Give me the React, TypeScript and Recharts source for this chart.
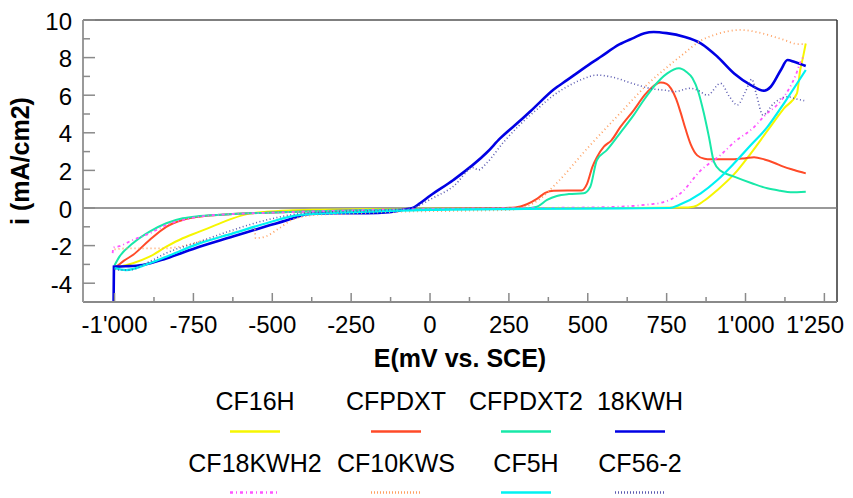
import React from 'react';
import { LineChart, Line, XAxis, YAxis, ReferenceLine, Legend } from 'recharts';

const FONT = '"Liberation Sans", Arial, Helvetica, sans-serif';

type Pt = [number, number];

// E (mV vs. SCE), i (mA/cm2)
const cf16h: Pt[] = [
  [-1000, -3.15], [-985, -3.12], [-942, -2.94], [-889, -2.59], [-836, -2.06], [-784, -1.61],
  [-731, -1.26], [-678, -0.9], [-625, -0.55], [-572, -0.3], [-519, -0.2], [-450, -0.13],
  [-350, -0.09], [-200, -0.06], [0, -0.04], [300, -0.02], [600, 0], [800, 0.02], [835, 0.07],
  [870, 0.4], [911, 0.96], [964, 1.8], [1017, 2.91], [1069, 4.1], [1122, 5.3], [1163, 6.1],
  [1173, 7.3], [1182, 8.0], [1191, 8.75],
];

const cfpdxt: Pt[] = [
  [-1000, -3.15], [-995, -3.12], [-970, -2.8], [-942, -2.5], [-889, -1.7], [-836, -1.0],
  [-784, -0.64], [-731, -0.46], [-625, -0.32], [-519, -0.25], [-400, -0.18], [-200, -0.1],
  [0, -0.05], [200, 0], [270, 0.03], [307, 0.2], [340, 0.5], [365, 0.8], [392, 0.92],
  [480, 0.93], [498, 1.3], [515, 2.2], [529, 2.7], [551, 3.26], [575, 3.6], [603, 4.3],
  [646, 5.21], [680, 6.0], [699, 6.35], [731, 6.67], [750, 6.6], [764, 6.35], [780, 5.8],
  [794, 5.1], [810, 4.2], [826, 3.4], [847, 2.8], [870, 2.62], [889, 2.59], [964, 2.59],
  [1000, 2.65], [1027, 2.7], [1060, 2.58], [1090, 2.41], [1120, 2.2], [1154, 2.02], [1191, 1.84],
];

const cfpdxt2: Pt[] = [
  [-1000, -3.05], [-985, -2.6], [-942, -1.88], [-889, -1.26], [-836, -0.81], [-784, -0.55],
  [-731, -0.43], [-625, -0.32], [-519, -0.25], [-400, -0.18], [-200, -0.1], [0, -0.05],
  [300, -0.02], [339, 0.07], [371, 0.43], [402, 0.64], [440, 0.74], [487, 0.78], [508, 1.13],
  [529, 2.55], [561, 3.09], [603, 4.0], [646, 4.95], [680, 5.8], [709, 6.45], [752, 7.16],
  [789, 7.43], [812, 7.25], [832, 6.9], [850, 6.2], [868, 5.04], [884, 3.79], [900, 2.45],
  [921, 1.98], [964, 1.67], [1020, 1.32], [1069, 1.05], [1110, 0.92], [1143, 0.84], [1191, 0.87],
];

const kwh18: Pt[] = [
  [-1003, -5.0], [-1002, -3.12], [-964, -3.1], [-911, -3.03], [-836, -2.68], [-731, -2.06],
  [-625, -1.52], [-519, -0.97], [-434, -0.55], [-413, -0.42], [-380, -0.32], [-300, -0.28],
  [-200, -0.28], [-130, -0.22], [-80, -0.08], [-55, 0.0], [-32, 0.25], [0, 0.65], [74, 1.49],
  [180, 2.95], [222, 3.7], [286, 4.65], [328, 5.3], [392, 6.3], [434, 6.8], [480, 7.35],
  [519, 7.8], [540, 8.03], [600, 8.7], [646, 9.05], [680, 9.3], [709, 9.36], [750, 9.3],
  [805, 9.11], [858, 8.76], [911, 8.05], [964, 7.16], [1017, 6.54], [1059, 6.24], [1080, 6.45],
  [1112, 7.34], [1133, 7.87], [1154, 7.78], [1191, 7.55],
];

const cf18kwh2: Pt[] = [
  [-1006, -2.4], [-1004, -2.1], [-985, -2.03], [-942, -1.7], [-889, -1.35], [-836, -0.9],
  [-784, -0.64], [-731, -0.46], [-625, -0.32], [-500, -0.25], [-300, -0.15], [0, -0.05],
  [300, 0.0], [500, 0.03], [600, 0.07], [700, 0.2], [731, 0.27], [794, 0.78], [858, 2.0],
  [920, 2.8], [964, 3.5], [1027, 4.3], [1060, 4.9], [1112, 5.7], [1140, 6.4], [1160, 7.1],
  [1175, 7.8], [1185, 8.1],
];

const cf10kws: Pt[] = [
  [-1000, -2.2], [-963, -2.15], [-850, -2.15], [-800, -2.08], [-731, -1.8], [-680, -1.6],
  [-625, -1.3], [-580, -1.15], [-556, -1.06], [-553, -1.6], [-519, -1.5], [-480, -1.1],
  [-434, -0.6], [-400, -0.45], [-350, -0.35], [-250, -0.3], [-100, -0.2], [100, -0.15],
  [250, -0.1], [290, 0.0], [350, 0.5], [400, 1.3], [500, 3.2], [600, 5.0], [700, 6.75],
  [752, 7.5], [800, 8.15], [858, 8.9], [900, 9.2], [985, 9.47], [1050, 9.3], [1090, 9.11],
  [1122, 8.94], [1165, 8.72], [1191, 8.72],
];

const cf5h: Pt[] = [
  [-1000, -3.2], [-964, -3.3], [-889, -2.94], [-836, -2.59], [-731, -1.88], [-625, -1.35],
  [-519, -0.81], [-413, -0.37], [-330, -0.28], [-200, -0.2], [0, -0.1], [300, -0.05],
  [600, -0.02], [760, 0.0], [789, 0.16], [858, 0.78], [911, 1.49], [964, 2.38], [1017, 3.35],
  [1069, 4.3], [1122, 5.57], [1191, 7.34],
];

const cf562: Pt[] = [
  [-1000, -3.25], [-985, -3.3], [-953, -3.3], [-889, -2.85], [-836, -2.4], [-731, -1.79],
  [-625, -1.17], [-519, -0.64], [-413, -0.3], [-300, -0.2], [-150, -0.12], [-60, 0.0],
  [-32, 0.15], [0, 0.45], [74, 1.15], [138, 2.15], [153, 2.02], [180, 2.4], [233, 3.5],
  [286, 4.45], [339, 5.25], [392, 6.0], [445, 6.55], [490, 6.9], [529, 7.07], [580, 6.95],
  [646, 6.6], [700, 6.35], [752, 6.25], [773, 6.19], [826, 6.37], [850, 6.25], [879, 6.0],
  [921, 6.63], [950, 5.9], [974, 5.48], [1000, 6.2], [1020, 6.85], [1035, 6.0], [1055, 4.95],
  [1090, 5.57], [1133, 5.92], [1160, 5.8], [1186, 5.71],
];

const seriesData: Pt[][] = [cf16h, cfpdxt, cfpdxt2, kwh18, cf18kwh2, cf10kws, cf5h, cf562];
const seriesNames = ['CF16H', 'CFPDXT', 'CFPDXT2', '18KWH', 'CF18KWH2', 'CF10KWS', 'CF5H', 'CF56-2'];

const xTicks = [-1000, -875, -750, -625, -500, -375, -250, -125, 0, 125, 250, 375, 500, 625, 750, 875, 1000, 1125, 1250];
const yTicks = [-4, -3, -2, -1, 0, 1, 2, 3, 4, 5, 6, 7, 8, 9, 10];

const seriesStyles = [
  { color: '#f6f600', width: 2, dash: undefined as string | undefined, legendDash: undefined as string | undefined },
  { color: '#ff4a28', width: 2, dash: undefined, legendDash: undefined },
  { color: '#18e8a8', width: 2, dash: undefined, legendDash: undefined },
  { color: '#0000e4', width: 2.6, dash: undefined, legendDash: undefined },
  { color: '#ff55ff', width: 1.8, dash: '3 3 1 3', legendDash: '3 3 1 3' },
  { color: '#ffa060', width: 1.8, dash: '1 3', legendDash: '1 2' },
  { color: '#00f2f2', width: 2.2, dash: undefined, legendDash: undefined },
  { color: '#5a5ab0', width: 1.6, dash: '1 2.5', legendDash: '1 2' },
];

const fmtThousands = (v: number) => {
  const s = Math.abs(v).toString();
  const body = s.length > 3 ? s.slice(0, s.length - 3) + "'" + s.slice(-3) : s;
  return (v < 0 ? '-' : '') + body;
};

const CHART_W = 853;

const XTick = (props: any) => {
  const { x, y, payload } = props;
  const v = payload.value as number;
  const major = v % 250 === 0;
  const label = fmtThousands(v);
  // keep the last label inside the picture, as the reference does
  const approxHalf = label.length * 6.2;
  const fitsRight = x + approxHalf <= CHART_W - 8;
  return (
    <g>
      <line x1={x} x2={x} y1={y} y2={y - (major ? 9 : 5)} stroke="#8a8a8a" strokeWidth={1.5} />
      {major && (
        <text
          x={fitsRight ? x : CHART_W - 9}
          y={y + 31}
          textAnchor={fitsRight ? 'middle' : 'end'}
          fontSize={24}
          fontFamily={FONT}
          fill="#000"
        >
          {label}
        </text>
      )}
    </g>
  );
};

const YTick = (props: any) => {
  const { x, y, payload } = props;
  const v = payload.value as number;
  const major = v % 2 === 0;
  return (
    <g>
      <line x1={x} x2={x + (major ? 12 : 7)} y1={y} y2={y} stroke="#8a8a8a" strokeWidth={1.5} />
      {major && (
        <text x={x - 11} y={y + 9.5} textAnchor="end" fontSize={24} fontFamily={FONT} fill="#000">
          {v}
        </text>
      )}
    </g>
  );
};

const legendCenters = [255, 396, 526, 640];

const renderLegend = () => (
  <svg width={853} height={118} style={{ display: 'block' }}>
    {seriesNames.map((name, i) => {
      const row = Math.floor(i / 4);
      const cx = legendCenters[i % 4];
      const ty = row === 0 ? 30 : 92;
      const ly = row === 0 ? 51.5 : 112.5;
      const s = seriesStyles[i];
      return (
        <g key={name}>
          <text x={cx} y={ty} textAnchor="middle" fontSize={25} fontFamily={FONT} fill="#000">
            {name}
          </text>
          <line x1={cx - 25} x2={cx + 25} y1={ly} y2={ly} stroke={s.color} strokeWidth={2.5} strokeDasharray={s.legendDash} />
        </g>
      );
    })}
  </svg>
);

const YTitle = () => (
  <text
    x={29}
    y={161}
    transform="rotate(-90 29 161)"
    textAnchor="middle"
    fontSize={25}
    fontWeight="bold"
    fontFamily={FONT}
    fill="#000"
  >
    i (mA/cm2)
  </text>
);

const XTitle = () => (
  <text x={460} y={367} textAnchor="middle" fontSize={25} fontWeight="bold" fontFamily={FONT} fill="#000">
    E(mV vs. SCE)
  </text>
);

export default function App() {
  return (
    <div style={{ position: 'absolute', left: 0, top: 0, width: 853, height: 498, background: '#fff' }}>
      <LineChart width={853} height={498} margin={{ top: 20, right: 16, bottom: 136, left: 0 }}>
        <XAxis
          dataKey="e"
          type="number"
          domain={[-1100, 1290]}
          allowDataOverflow
          ticks={xTicks}
          interval={0}
          tickSize={0}
          tickMargin={0}
          tickLine={false}
          tick={<XTick />}
          axisLine={{ stroke: '#8a8a8a', strokeWidth: 2 }}
          height={60}
          label={{ content: () => <XTitle /> }}
        />
        <YAxis
          type="number"
          domain={[-5, 10]}
          allowDataOverflow
          ticks={yTicks}
          interval={0}
          tickSize={0}
          tickMargin={0}
          tickLine={false}
          tick={<YTick />}
          axisLine={{ stroke: '#9a9a9a', strokeWidth: 2 }}
          width={83}
          label={{ content: () => <YTitle /> }}
        />
        <ReferenceLine y={10} stroke="#000" strokeWidth={1.2} />
        <ReferenceLine x={1290} stroke="#333" strokeWidth={1.5} />
        <ReferenceLine y={0} stroke="#777" strokeWidth={1.5} />
        {seriesData.map((pts, i) => {
          const s = seriesStyles[i];
          return (
            <Line
              key={seriesNames[i]}
              name={seriesNames[i]}
              data={pts.map(([e, v]) => ({ e, i: v }))}
              dataKey="i"
              type="monotone"
              stroke={s.color}
              strokeWidth={s.width}
              strokeDasharray={s.dash}
              dot={false}
              activeDot={false}
              isAnimationActive={false}
            />
          );
        })}
        <Legend
          layout="horizontal"
          verticalAlign="middle"
          align="center"
          content={renderLegend}
          wrapperStyle={{ position: 'absolute', top: 380, left: 0, width: 853, height: 118 }}
        />
      </LineChart>
    </div>
  );
}
